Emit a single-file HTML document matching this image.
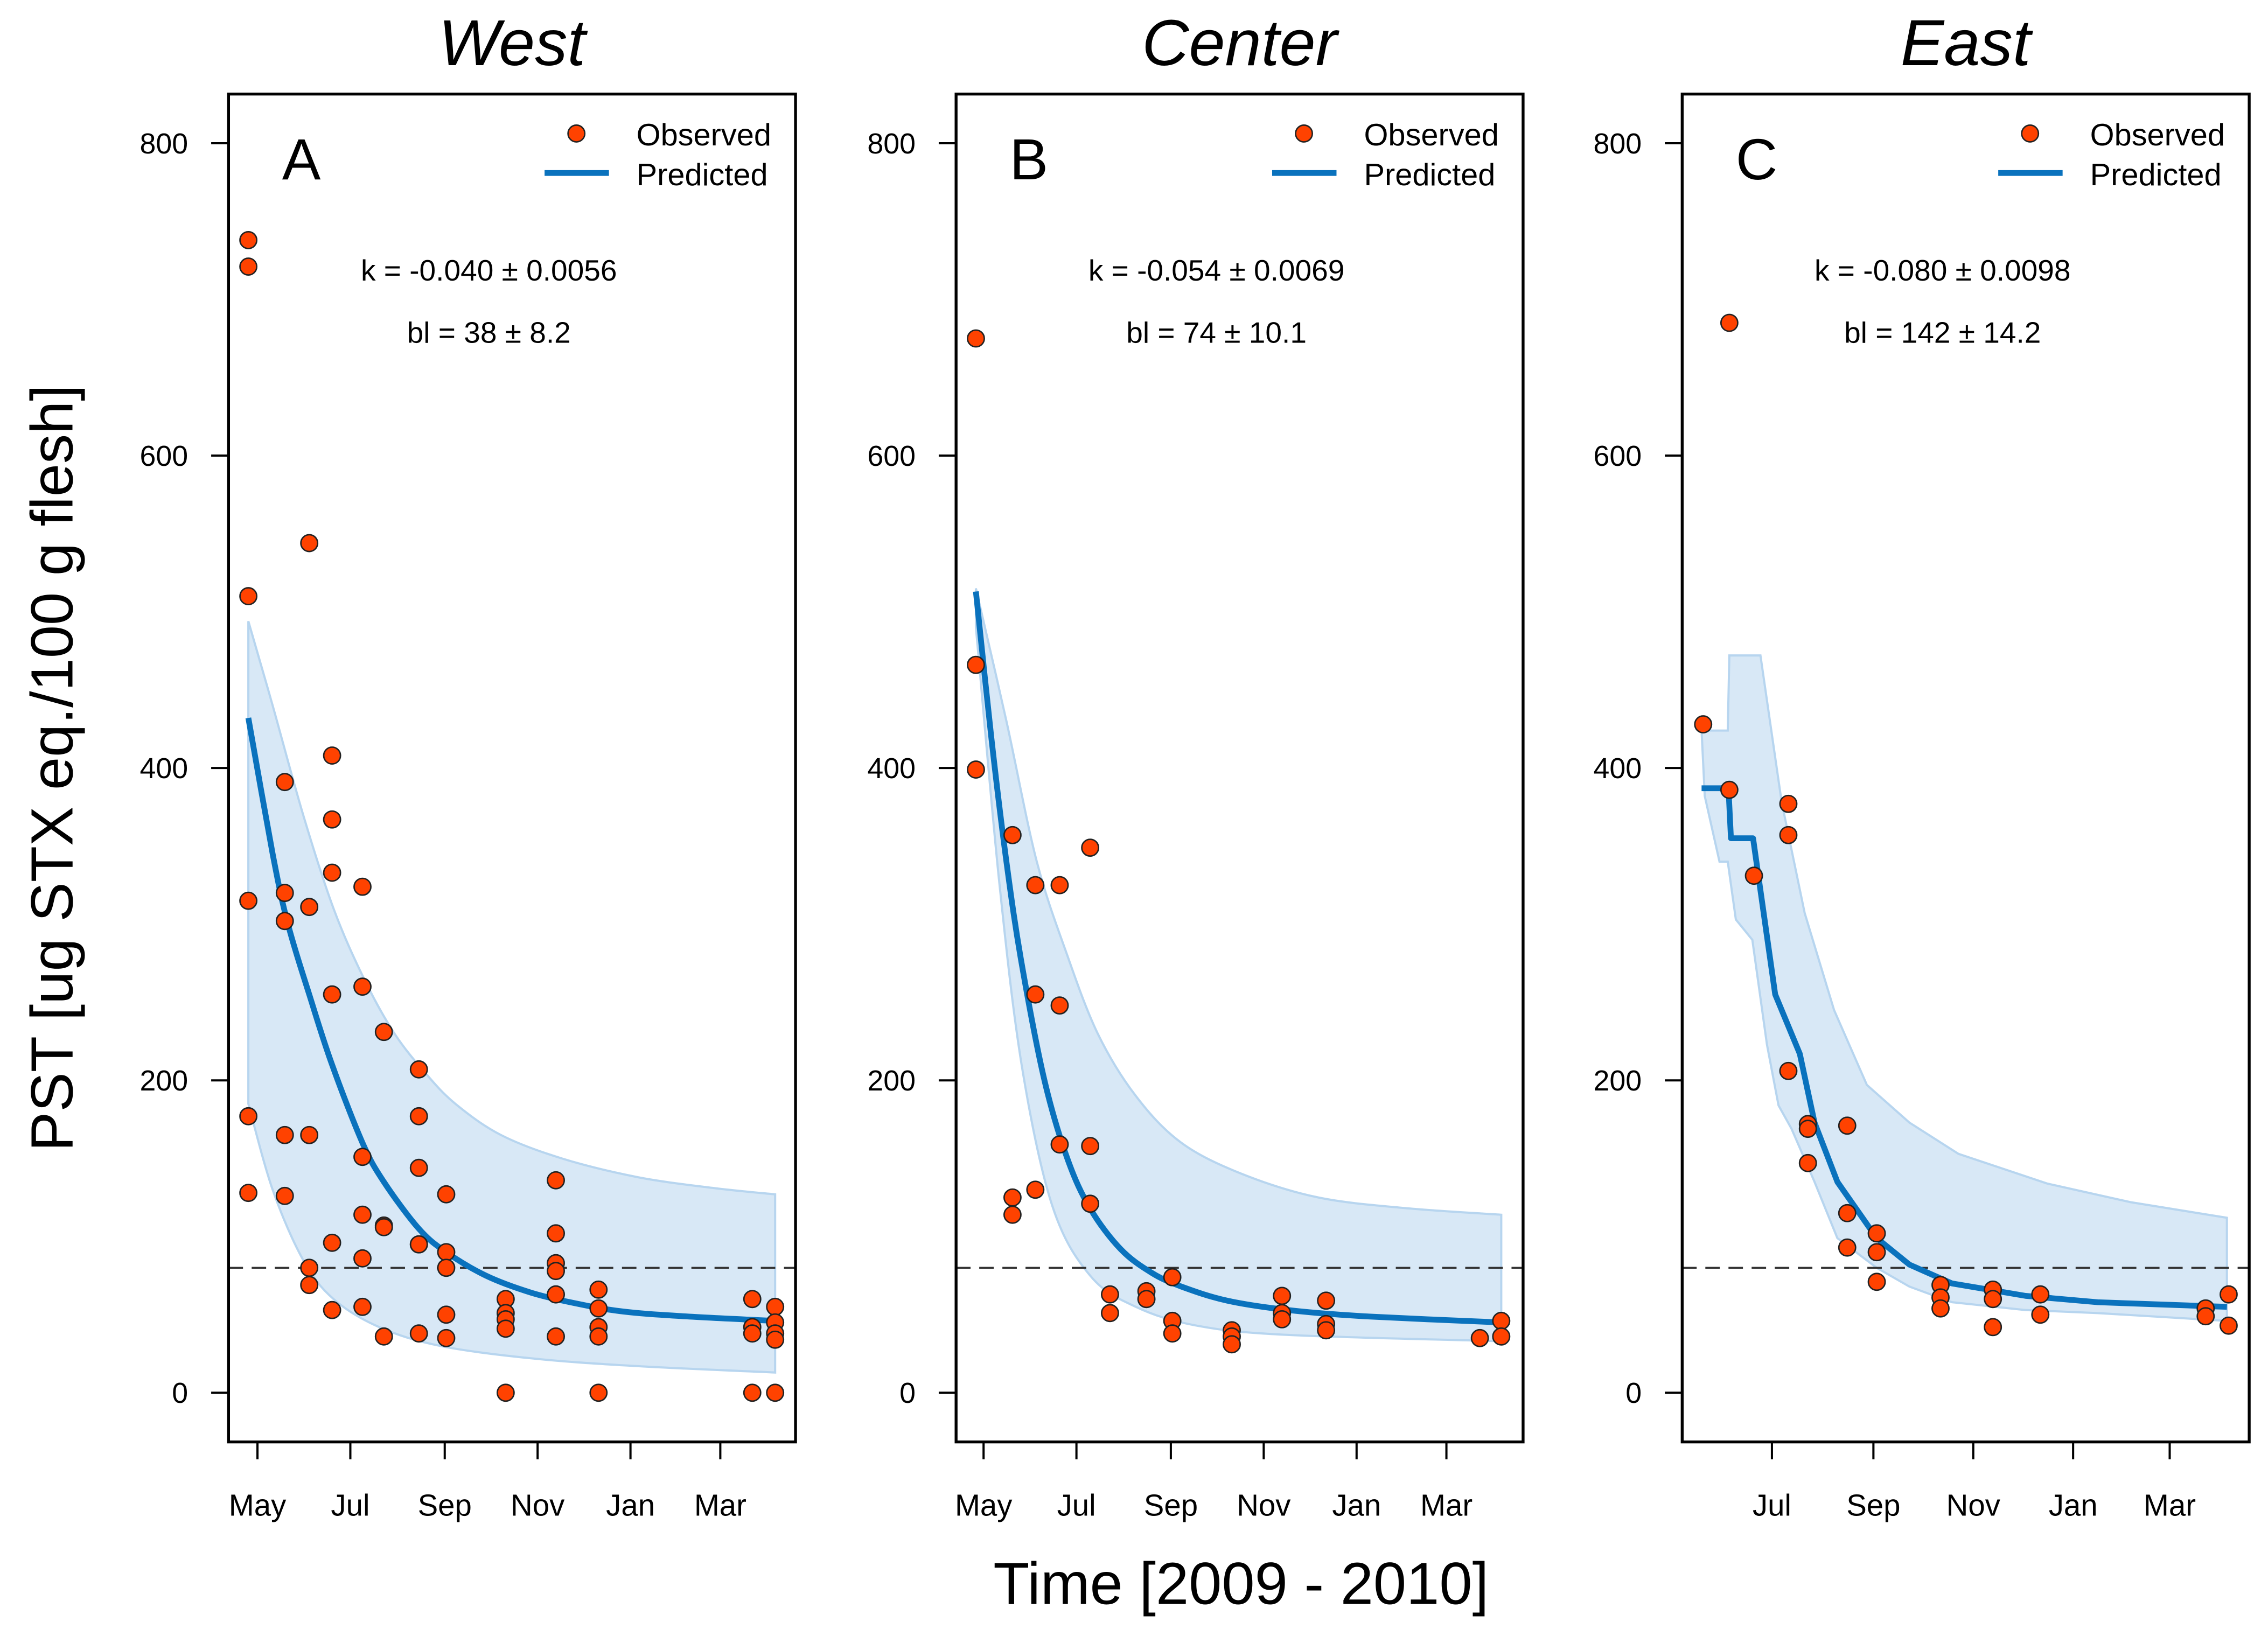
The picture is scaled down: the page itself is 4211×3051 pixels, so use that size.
<!DOCTYPE html>
<html><head><meta charset="utf-8"><style>
html,body{margin:0;padding:0;background:#fff;}
svg{display:block;font-family:"Liberation Sans",Arial,sans-serif;}
</style></head><body>
<svg id="chart" xmlns="http://www.w3.org/2000/svg" width="4211" height="3051" viewBox="0 0 1568 1136">
<rect x="0" y="0" width="1568" height="1136" fill="#fff"/>
<text x="0" y="0" transform="translate(50,531) rotate(-90)" text-anchor="middle" font-size="41">PST [ug STX eq./100 g flesh]</text>
<text x="858" y="1109" text-anchor="middle" font-size="41">Time [2009 - 2010]</text>
<g id="panels"></g>
</svg>
<script>
// ---- data: days since 1 May 2009, PST values ----
const yTicks = [0, 200, 400, 600, 800];
const monthLabels = ["May", "Jul", "Sep", "Nov", "Jan", "Mar"];
const monthDays = [0, 61, 123, 184, 245, 304];
const threshold = 80;

const titles = ["West", "Center", "East"];
const letters = ["A", "B", "C"];
const kTexts = ["k = -0.040 \u00b1 0.0056", "k = -0.054 \u00b1 0.0069", "k = -0.080 \u00b1 0.0098"];
const blTexts = ["bl = 38 \u00b1 8.2", "bl = 74 \u00b1 10.1", "bl = 142 \u00b1 14.2"];

const obsDaysA = [-6,-6,-6,-6,-6,-6, 18,18,18,18,18, 34,34,34,34,34, 49,49,49,49,49,49, 69,69,69,69,69,69, 83,83,83,83, 106,106,106,106,106,106, 124,124,124,124,124, 163,163,163,163,163, 196,196,196,196,196,196, 224,224,224,224,224, 325,325,325,325, 340,340,340,340,340];
const obsValsA = [738,721,510,315,177,128, 391,320,302,165,126, 544,311,165,80,69, 408,367,333,255,96,53, 324,260,151,114,86,55, 231,107,106,36, 207,177,144,95,95,38, 127,90,80,50,35, 60,51,47,41,0, 136,102,83,78,63,36, 66,54,42,36,0, 60,42,38,0, 55,45,38,34,0];
const obsDaysB = [-5,-5,-5, 19,19,19, 34,34,34, 50,50,50, 70,70,70, 83,83, 107,107, 124,124,124, 163,163,163, 196,196,196, 225,225,225, 326, 340,340];
const obsValsB = [675,466,399, 357,125,114, 325,255,130, 325,248,159, 349,158,121, 63,51, 65,60, 74,46,38, 40,36,31, 62,51,47, 59,44,40, 35, 46,36];
const obsDaysC = [19, 35,35, 50, 71,71,71, 83,83,83, 107,107,107, 125,125,125, 164,164,164, 196,196,196, 225,225, 326,326, 340,340];
const obsValsC = [428, 685,386, 331, 377,357,206, 172,169,147, 171,115,93, 102,90,71, 69,61,54, 66,60,42, 63,50, 54,49, 63,43];

const predDaysA = [-6,10,20,34,49,69,83,106,124,150,180,210,240,280,340];
const predValsA = [432,345,300,255,210,160,135,105,90,75,64,57,52,49,46];
const upDaysA = [-6,10,30,50,70,90,110,130,160,200,250,300,340];
const upValsA = [494,440,370,310,265,230,205,185,165,150,138,131,127];
const loDaysA = [-6,10,30,50,80,120,180,250,340];
const loValsA = [185,130,85,60,42,30,22,17,13];

const predDaysB = [-5,5,15,25,40,55,70,90,110,130,160,200,250,340];
const predValsB = [513,420,340,275,200,150,118,92,77,68,59,53,49,45];
const upDaysB = [-5,15,35,55,75,100,130,170,220,280,340];
const upValsB = [515,430,340,280,230,190,160,140,125,118,114];
const loDaysB = [-5,10,25,45,70,100,140,200,340];
const loValsB = [490,330,210,120,75,55,43,37,33];

const predDaysC = [18,34.5,36,49.5,63,78,87,101,125,145,171,216,260,339];
const predValsC = [387,387,355,355,255,217,173,135,99,82,70,62,58,55];
const upDaysC = [18,34,35,54,67,81,99,119,145,175,229,280,339];
const upValsC = [424,424,472,472,378,307,245,197,173,153,134,122,112];
const loDaysC = [20,29,34,39,49,58,65,73,87,101,125,145,171,216,260,339];
const loValsC = [382,340,340,303,290,223,184,169,135,99,80,68,58,53,51,46];

// ---- layout ----
const NS = "http://www.w3.org/2000/svg";
const panelsG = document.getElementById("panels");
const boxes = [{l:158,r:550},{l:661,r:1053},{l:1163,r:1555}];
const boxTop = 65, boxBot = 997;
const xOrigin = [178, 680, 1156];
const xScale = [1.0526, 1.0526, 1.1317];
const monthStart = [0, 0, 1];
const smooth = [true, true, false];
function yPos(v){ return 963 - v*864/800; }

const obsD = [obsDaysA, obsDaysB, obsDaysC], obsV = [obsValsA, obsValsB, obsValsC];
const prD = [predDaysA, predDaysB, predDaysC], prV = [predValsA, predValsB, predValsC];
const uD = [upDaysA, upDaysB, upDaysC], uV = [upValsA, upValsB, upValsC];
const lD = [loDaysA, loDaysB, loDaysC], lV = [loValsA, loValsB, loValsC];

function mk(tag, attrs, parent){
  const e = document.createElementNS(NS, tag);
  for (const k in attrs) e.setAttribute(k, attrs[k]);
  parent.appendChild(e);
  return e;
}
// path through points; Catmull-Rom when smooth
function pathD(P, sm, cont){
  let d = (cont ? "L" : "M") + P[0][0].toFixed(1) + "," + P[0][1].toFixed(1);
  for (let i = 0; i < P.length - 1; i++) {
    if (!sm) { d += " L" + P[i+1][0].toFixed(1) + "," + P[i+1][1].toFixed(1); continue; }
    const p0 = P[Math.max(i-1,0)], p1 = P[i], p2 = P[i+1], p3 = P[Math.min(i+2,P.length-1)];
    const c1x = p1[0] + (p2[0]-p0[0])/6, c1y = p1[1] + (p2[1]-p0[1])/6;
    const c2x = p2[0] - (p3[0]-p1[0])/6, c2y = p2[1] - (p3[1]-p1[1])/6;
    d += " C" + c1x.toFixed(1) + "," + c1y.toFixed(1) + " " + c2x.toFixed(1) + "," + c2y.toFixed(1) + " " + p2[0].toFixed(1) + "," + p2[1].toFixed(1);
  }
  return d;
}

for (let p = 0; p < 3; p++) {
  const b = boxes[p];
  const xPos = d => xOrigin[p] + d*xScale[p];
  const g = mk("g", {}, panelsG);
  
  
  const cx = (b.l + b.r)/2;

  const t = mk("text", {x: cx, y: 45, "text-anchor":"middle", "font-size":45, "font-style":"italic"}, g);
  t.textContent = titles[p];
  
  

  // band
  const up = uD[p].map((d,i) => [xPos(d), yPos(uV[p][i])]);
  const lo = lD[p].map((d,i) => [xPos(d), yPos(lV[p][i])]).reverse();
  const band = mk("path", {d: pathD(up, smooth[p], false) + " " + pathD(lo, smooth[p], true) + " Z", fill:"#d8e8f6", stroke:"#b7d5ef", "stroke-width":1.5}, g);
  
  

  // threshold
  const th = mk("line", {x1:b.l, x2:b.r, y1:yPos(threshold), y2:yPos(threshold), stroke:"#333", "stroke-width":1.3, "stroke-dasharray":"10,6"}, g);
  
  

  // predicted
  const pr = prD[p].map((d,i) => [xPos(d), yPos(prV[p][i])]);
  const pl = mk("path", {d: pathD(pr, smooth[p], false), fill:"none", stroke:"#0a72bd", "stroke-width":4, "stroke-linejoin":"round"}, g);
  
  

  // observed
  for (let i = 0; i < obsD[p].length; i++) {
    const c = mk("circle", {cx: xPos(obsD[p][i]).toFixed(1), cy: yPos(obsV[p][i]).toFixed(1), r:5.8, fill:"#ff4200", stroke:"#222", "stroke-width":1}, g);
    
    
  }

  // frame
  const fr = mk("rect", {x:b.l, y:boxTop, width:b.r-b.l, height:boxBot-boxTop, fill:"none", stroke:"#000", "stroke-width":2}, g);
  
  

  // y ticks
  for (let i = 0; i < yTicks.length; i++) {
    const y = yPos(yTicks[i]);
    const tk = mk("line", {x1:b.l-12, x2:b.l, y1:y, y2:y, stroke:"#000", "stroke-width":1.5}, g);
    
    
    const tl = mk("text", {x:b.l-28, y:y+7, "text-anchor":"end", "font-size":20}, g);
    tl.textContent = yTicks[i];
    
    
  }
  // x ticks
  for (let i = monthStart[p]; i < monthDays.length; i++) {
    const x = xPos(monthDays[i]);
    const tk = mk("line", {x1:x, x2:x, y1:boxBot, y2:boxBot+12, stroke:"#000", "stroke-width":1.5}, g);
    
    
    const tl = mk("text", {x:x, y:1048, "text-anchor":"middle", "font-size":21}, g);
    tl.textContent = monthLabels[i];
    
    
  }

  // letter
  const lt = mk("text", {x:b.l+37, y:124, "font-size":40}, g);
  lt.textContent = letters[p];
  
  

  // legend
  const ld = mk("circle", {cx:b.l+240.5, cy:92.3, r:5.8, fill:"#ff4200", stroke:"#222", "stroke-width":1}, g);
  
  
  const lo2 = mk("text", {x:b.l+282, y:100.5, "font-size":21.5}, g);
  lo2.textContent = "Observed";
  
  
  const ll = mk("line", {x1:b.l+218.5, x2:b.l+263, y1:119.6, y2:119.6, stroke:"#0a72bd", "stroke-width":4}, g);
  
  
  const lpT = mk("text", {x:b.l+282, y:128, "font-size":21.5}, g);
  lpT.textContent = "Predicted";
  
  

  // stats
  const kt = mk("text", {x:cx-16, y:194, "text-anchor":"middle", "font-size":20.5}, g);
  kt.textContent = kTexts[p];
  
  
  const bt = mk("text", {x:cx-16, y:237, "text-anchor":"middle", "font-size":20.5}, g);
  bt.textContent = blTexts[p];
  
  
}
</script>
</body></html>
